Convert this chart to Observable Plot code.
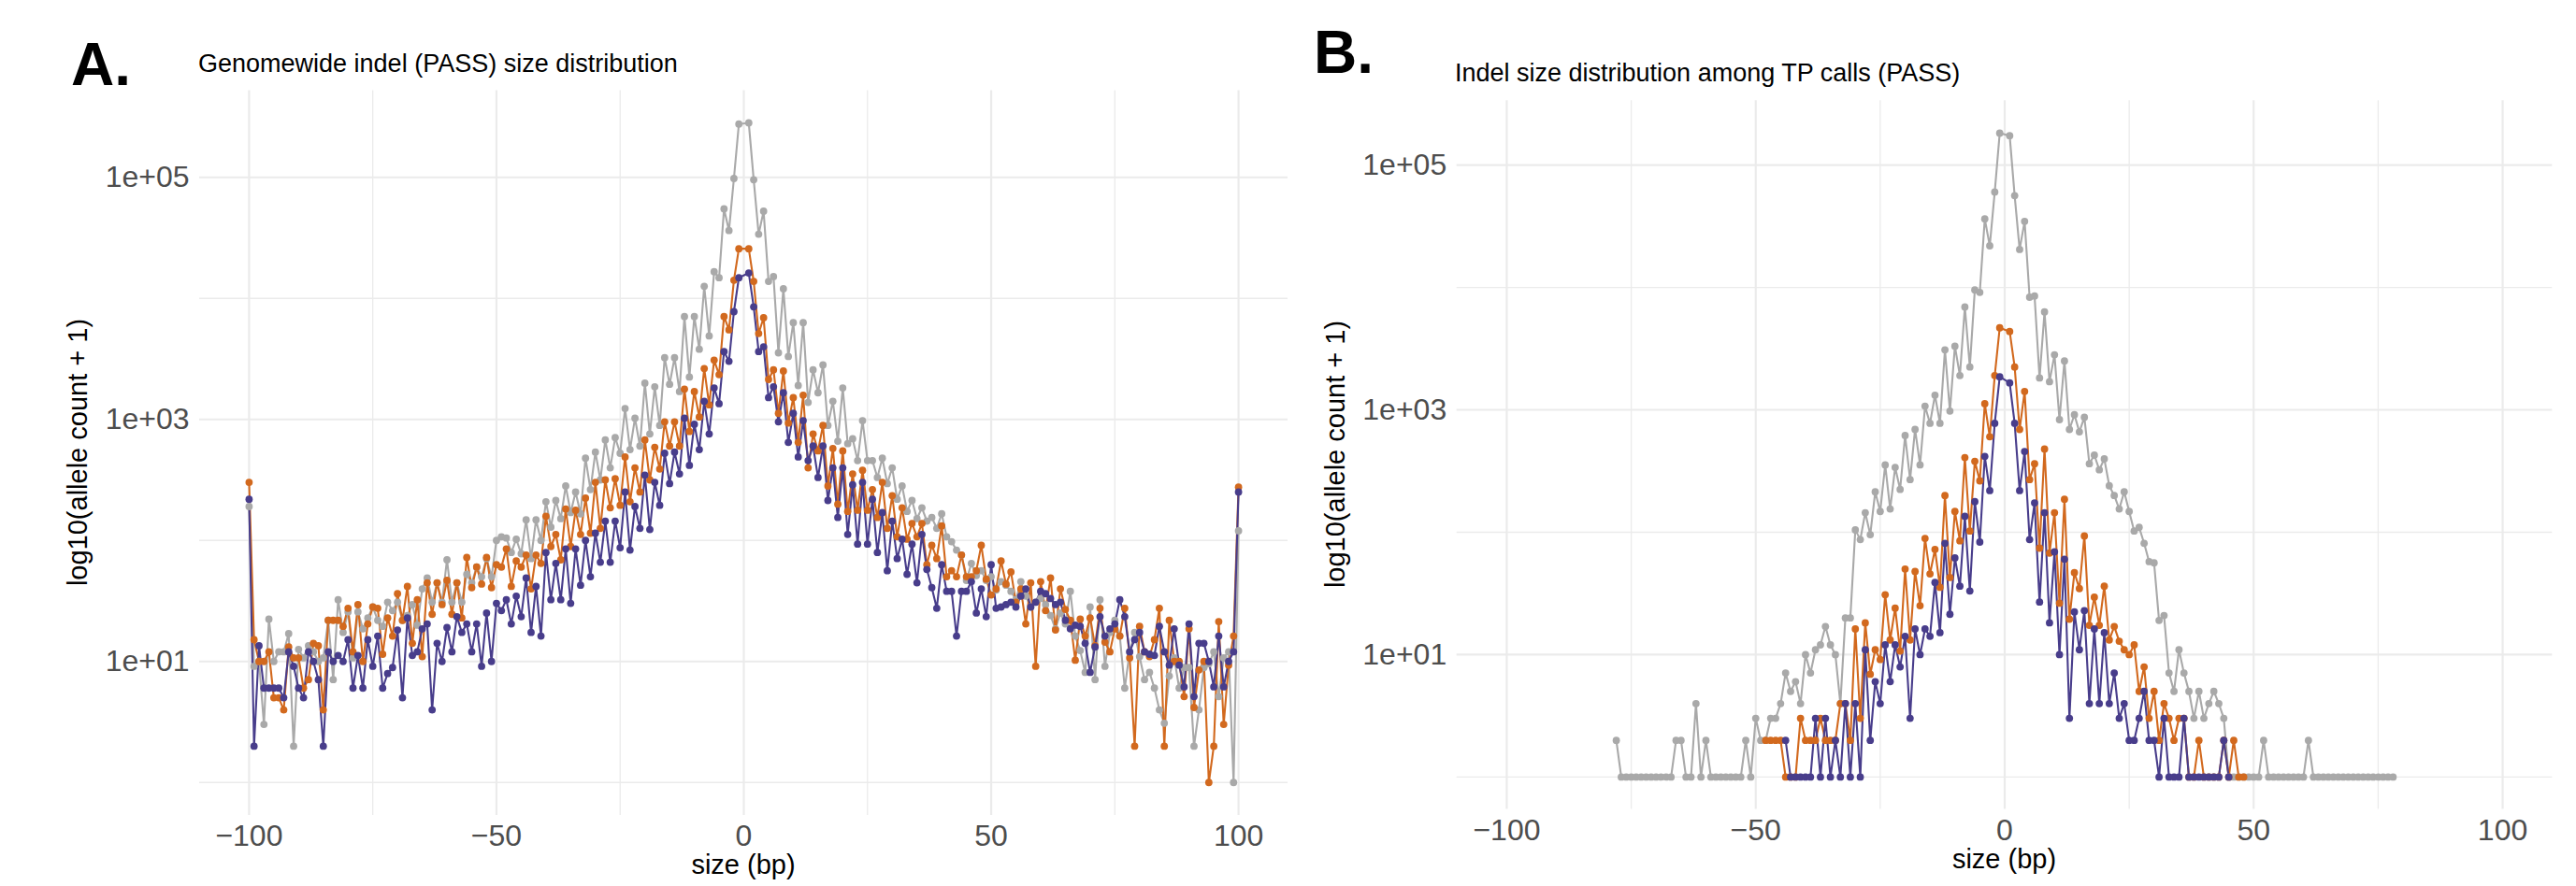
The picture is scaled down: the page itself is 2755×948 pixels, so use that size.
<!DOCTYPE html>
<html>
<head>
<meta charset="utf-8">
<script src="https://cdn.jsdelivr.net/npm/d3@7"></script>
<script src="https://cdn.jsdelivr.net/npm/@observablehq/plot@0.6"></script>
<style>
  html, body { margin: 0; padding: 0; background: #ffffff; }
  #page {
    position: relative; width: 2755px; height: 948px; overflow: hidden; background: #ffffff;
    font-family: "Liberation Sans", Arial, Helvetica, sans-serif;
  }
  .panel { position: absolute; top: 0; }
  .txt { position: absolute; white-space: nowrap; line-height: 1; color: #000000; }
</style>
</head>
<body>
<div id="page"></div>
<script>
// Indel size (bp): negative = deletion, positive = insertion. All values are log10(allele count + 1).
const sizesBetween = (lo, hi) => d3.range(lo, hi + 1).filter(s => s !== 0);

// ---- Panel A: genome-wide PASS indels, sizes -100..100 ----
const sizesA = sizesBetween(-100, 100);

const genomeGrey = [
  2.28, 0.96, 1.00, 0.48, 1.35, 1.00, 1.08, 1.08, 1.23, 0.30,
  1.10, 1.03, 1.13, 1.08, 1.00, 1.03, 1.34, 0.85, 1.51, 1.24,
  1.41, 1.03, 1.41, 1.27, 1.36, 1.45, 1.34, 1.29, 1.49, 1.42,
  1.49, 1.34, 1.38, 1.47, 1.30, 1.60, 1.69, 1.49, 1.65, 1.49,
  1.84, 1.49, 1.65, 1.49, 1.72, 1.65, 1.78, 1.70, 1.85, 1.70,
  2.00, 2.03, 2.02, 1.90, 2.01, 1.89, 2.17, 1.85, 2.17, 2.00,
  2.32, 2.11, 2.33, 2.18, 2.45, 2.23, 2.40, 2.22, 2.68, 2.42,
  2.73, 2.50, 2.83, 2.60, 2.85, 2.72, 3.09, 2.75, 3.01, 2.78,
  3.30, 2.88, 3.27, 2.95, 3.51, 3.29, 3.51, 3.23, 3.85, 3.35,
  3.85, 3.58, 4.10, 3.69, 4.22, 4.17, 4.74, 4.56, 4.99, 5.44,
  5.45, 4.98, 4.53, 4.72, 4.14, 4.18, 3.55, 4.08, 3.52, 3.80,
  3.28, 3.80, 3.14, 3.41, 3.22, 3.45, 2.95, 3.15, 2.82, 3.26,
  2.80, 2.84, 2.66, 2.99, 2.66, 2.66, 2.52, 2.68, 2.47, 2.60,
  2.34, 2.45, 2.24, 2.33, 2.18, 2.27, 2.16, 2.19, 2.10, 2.22,
  2.03, 1.99, 1.92, 1.88, 1.67, 1.81, 1.71, 1.75, 1.67, 1.70,
  1.59, 1.66, 1.63, 1.58, 1.51, 1.66, 1.54, 1.45, 1.49, 1.52,
  1.47, 1.38, 1.27, 1.40, 1.31, 1.58, 1.21, 1.09, 0.91, 1.45,
  0.85, 1.51, 0.96, 1.24, 1.34, 1.21, 0.78, 1.08, 1.24, 1.04,
  0.85, 0.91, 0.78, 0.60, 0.49, 0.88, 1.03, 0.78, 0.95, 0.95,
  0.30, 0.60, 0.95, 0.98, 1.08, 0.71, 1.03, 1.08, 0.00, 2.08
];

const genomeOrange = [
  2.48, 1.18, 1.00, 1.00, 1.08, 0.70, 0.70, 0.60, 1.12, 1.03,
  1.03, 0.78, 0.85, 1.15, 1.13, 0.60, 1.34, 1.34, 1.34, 1.29,
  1.44, 1.08, 1.47, 1.00, 1.31, 1.45, 1.44, 1.06, 1.36, 1.21,
  1.56, 1.34, 1.62, 1.15, 1.51, 1.04, 1.65, 1.39, 1.65, 1.47,
  1.67, 1.39, 1.65, 1.36, 1.86, 1.61, 1.78, 1.64, 1.86, 1.61,
  1.80, 1.78, 1.93, 1.62, 1.83, 1.78, 1.88, 1.60, 1.88, 1.81,
  2.20, 1.95, 2.05, 1.84, 2.26, 1.95, 2.25, 2.05, 2.35, 2.06,
  2.48, 2.10, 2.50, 2.27, 2.51, 2.29, 2.69, 2.32, 2.60, 2.40,
  2.83, 2.50, 2.77, 2.59, 2.98, 2.78, 2.98, 2.78, 3.25, 2.90,
  3.23, 3.02, 3.42, 3.12, 3.49, 3.37, 3.85, 3.74, 4.15, 4.41,
  4.41, 4.14, 3.71, 3.84, 3.33, 3.41, 3.05, 3.40, 2.97, 3.18,
  2.81, 3.20, 2.60, 2.88, 2.74, 2.95, 2.45, 2.76, 2.30, 2.74,
  2.24, 2.55, 2.25, 2.58, 2.25, 2.42, 2.19, 2.48, 2.10, 2.37,
  2.03, 2.27, 2.01, 2.14, 2.03, 2.14, 1.80, 1.96, 1.85, 2.12,
  1.70, 1.75, 1.70, 1.88, 1.70, 1.70, 1.75, 1.96, 1.68, 1.55,
  1.60, 1.83, 1.64, 1.74, 1.49, 1.60, 1.31, 1.65, 0.96, 1.66,
  1.42, 1.69, 1.26, 1.60, 1.43, 1.34, 1.01, 1.35, 1.21, 1.36,
  1.13, 1.44, 1.16, 1.08, 1.27, 1.21, 1.44, 1.03, 0.30, 1.29,
  1.08, 1.04, 1.18, 1.44, 0.30, 1.34, 1.00, 1.00, 0.71, 1.27,
  0.62, 0.93, 1.00, 0.00, 0.30, 1.33, 0.48, 0.97, 1.21, 2.44
];

const genomePurple = [
  2.34, 0.30, 1.13, 0.78, 0.78, 0.78, 0.78, 0.70, 1.08, 0.96,
  0.78, 0.70, 1.08, 1.00, 0.85, 0.30, 1.08, 1.00, 1.05, 1.00,
  1.18, 0.78, 1.05, 0.78, 1.18, 0.96, 1.21, 0.78, 0.90, 0.95,
  1.26, 0.70, 1.36, 1.05, 1.08, 1.27, 1.31, 0.60, 1.15, 1.00,
  1.28, 1.08, 1.37, 1.24, 1.31, 1.08, 1.31, 0.96, 1.40, 1.00,
  1.48, 1.42, 1.51, 1.31, 1.54, 1.37, 1.69, 1.24, 1.62, 1.21,
  1.90, 1.51, 1.81, 1.51, 1.93, 1.48, 1.93, 1.63, 2.00, 1.70,
  2.06, 1.82, 2.16, 1.82, 2.16, 1.94, 2.40, 1.92, 2.28, 2.10,
  2.54, 2.09, 2.48, 2.29, 2.72, 2.47, 2.73, 2.55, 3.01, 2.62,
  2.96, 2.75, 3.15, 2.88, 3.26, 3.13, 3.56, 3.48, 3.89, 4.17,
  4.21, 3.93, 3.56, 3.60, 3.18, 3.27, 2.98, 3.22, 2.81, 3.05,
  2.69, 2.99, 2.66, 2.78, 2.52, 2.78, 2.33, 2.60, 2.19, 2.60,
  2.05, 2.46, 1.97, 2.48, 1.97, 2.34, 1.90, 2.23, 1.75, 2.16,
  1.85, 2.01, 1.72, 1.97, 1.65, 2.05, 1.76, 1.61, 1.44, 1.80,
  1.58, 1.58, 1.21, 1.58, 1.58, 1.66, 1.40, 1.60, 1.37, 1.80,
  1.44, 1.45, 1.47, 1.49, 1.45, 1.54, 1.60, 1.45, 1.49, 1.58,
  1.56, 1.52, 1.47, 1.49, 1.34, 1.27, 1.30, 1.29, 1.15, 0.91,
  1.12, 1.37, 1.21, 1.27, 1.31, 1.51, 1.37, 1.08, 1.18, 1.24,
  1.08, 1.06, 1.05, 1.29, 1.08, 0.97, 1.27, 0.97, 0.79, 1.31,
  0.71, 1.15, 1.15, 1.00, 0.79, 1.21, 0.79, 1.00, 1.08, 2.40
];

// ---- Panel B: PASS indels among true-positive calls ----
const sizesGreyB = sizesBetween(-78, 78);
const sizesOrangeB = sizesBetween(-48, 48);
const sizesPurpleB = sizesBetween(-44, 45);

const tpGrey = [
  0.30, 0, 0, 0, 0, 0, 0, 0, 0, 0,
  0, 0, 0.30, 0.30, 0, 0, 0.60, 0, 0.30, 0,
  0, 0, 0, 0, 0, 0, 0.30, 0, 0.48, 0.30,
  0.30, 0.48, 0.48, 0.60, 0.85, 0.70, 0.78, 0.60, 1.00, 0.85,
  1.04, 1.08, 1.23, 1.08, 1.00, 0.60, 1.30, 1.30, 2.02, 1.94,
  2.16, 1.98, 2.33, 2.17, 2.55, 2.19, 2.53, 2.35, 2.79, 2.43,
  2.84, 2.55, 3.03, 2.89, 3.12, 2.89, 3.49, 2.99, 3.52, 3.28,
  3.84, 3.35, 3.98, 3.96, 4.56, 4.34, 4.78, 5.26,
  5.24, 4.75, 4.31, 4.54, 3.92, 3.93, 3.26, 3.80, 3.23, 3.45,
  2.92, 3.40, 2.84, 2.96, 2.82, 2.94, 2.56, 2.63, 2.51, 2.60,
  2.38, 2.30, 2.19, 2.33, 2.17, 2.01, 2.04, 1.91, 1.76, 1.75,
  1.28, 1.32, 0.85, 0.70, 1.04, 0.85, 0.70, 0.48, 0.70, 0.48,
  0.60, 0.70, 0.60, 0.48, 0, 0, 0, 0, 0, 0,
  0, 0.30, 0, 0, 0, 0, 0, 0, 0, 0,
  0.30, 0, 0, 0, 0, 0, 0, 0, 0, 0,
  0, 0, 0, 0, 0, 0, 0, 0
];

const tpOrange = [
  0.30, 0.30, 0.30, 0.30, 0, 0, 0, 0.48, 0.30, 0.30,
  0.30, 0.48, 0.30, 0.30, 0.30, 0.60, 0.60, 0.30, 1.21, 0.48,
  1.26, 0.84, 1.04, 0.96, 1.49, 1.12, 1.38, 1.03, 1.70, 1.12,
  1.68, 1.40, 1.95, 1.66, 1.86, 1.55, 2.30, 1.63, 2.17, 1.93,
  2.61, 2.01, 2.58, 2.42, 3.05, 2.78, 3.28, 3.67,
  3.64, 3.35, 2.84, 3.15, 2.43, 2.56, 1.87, 2.68, 1.83, 2.16,
  1.42, 2.27, 1.29, 1.67, 1.54, 1.97, 1.24, 1.47, 1.24, 1.56,
  1.12, 1.23, 1.11, 1.04, 1.00, 1.08, 0.70, 0.90, 0.48, 0.70,
  0.30, 0.60, 0.48, 0.30, 0.48, 0.48, 0, 0, 0.30, 0,
  0, 0, 0, 0.30, 0, 0.30, 0, 0
];

const tpPurple = [
  0.30, 0, 0, 0, 0, 0, 0.48, 0, 0.48, 0,
  0.30, 0, 0.60, 0, 0.60, 0, 1.04, 0.30, 0.78, 0.60,
  1.08, 0.78, 1.08, 0.90, 1.15, 0.48, 1.21, 1.00, 1.21, 1.15,
  1.59, 1.18, 1.91, 1.33, 1.79, 1.56, 2.13, 1.52, 2.25, 1.92,
  2.62, 2.34, 2.89, 3.27,
  3.22, 2.89, 2.34, 2.66, 1.94, 2.24, 1.43, 2.16, 1.26, 1.84,
  1.00, 1.78, 0.48, 1.35, 1.04, 1.36, 0.60, 1.21, 0.60, 1.18,
  0.60, 0.85, 0.48, 0.60, 0.30, 0.30, 0.48, 0.70, 0.30, 0.30,
  0, 0.48, 0, 0, 0, 0.48, 0, 0, 0, 0,
  0, 0, 0, 0.30, 0
];

// Axis breaks
const xMajor = [-100, -50, 0, 50, 100];
const xMinor = [-75, -25, 25, 75];
const yMajor = [1, 3, 5];
const yMinor = [0, 2, 4];

const colors = { grey: "#A9A9A9", orange: "#D2691E", purple: "#483D8B" };
const fontFamily = '"Liberation Sans", Arial, Helvetica, sans-serif';

function checkLength(name, values, sizes) {
  if (values.length !== sizes.length) throw new Error(name + ": " + values.length + " values for " + sizes.length + " sizes");
}
checkLength("genomeGrey", genomeGrey, sizesA);
checkLength("genomeOrange", genomeOrange, sizesA);
checkLength("genomePurple", genomePurple, sizesA);
checkLength("tpGrey", tpGrey, sizesGreyB);
checkLength("tpOrange", tpOrange, sizesOrangeB);
checkLength("tpPurple", tpPurple, sizesPurpleB);

const fmtX = d => (d < 0 ? "\u2212" + Math.abs(d) : String(d));
const fmtY = d => "1e+0" + d;

function panel({ width, margins, yDomain, series }) {
  const lineMarks = series.map(s =>
    Plot.line(s.values, { x: (d, i) => s.sizes[i], y: d => d, stroke: s.color, strokeWidth: 2.1 })
  );
  const dotMarks = series.map(s =>
    Plot.dot(s.values, { x: (d, i) => s.sizes[i], y: d => d, fill: s.color, r: 3.9 })
  );
  return Plot.plot({
    width,
    height: 948,
    marginLeft: margins.left,
    marginRight: margins.right,
    marginTop: margins.top,
    marginBottom: margins.bottom,
    style: { fontFamily, fontSize: "32px", color: "#4D4D4D", background: "transparent", overflow: "visible" },
    x: { type: "linear", domain: [-110, 110] },
    y: { type: "linear", domain: yDomain },
    marks: [
      Plot.gridX(xMinor, { stroke: "#EBEBEB", strokeOpacity: 1, strokeWidth: 1.3 }),
      Plot.gridY(yMinor, { stroke: "#EBEBEB", strokeOpacity: 1, strokeWidth: 1.3 }),
      Plot.gridX(xMajor, { stroke: "#EBEBEB", strokeOpacity: 1, strokeWidth: 2.2 }),
      Plot.gridY(yMajor, { stroke: "#EBEBEB", strokeOpacity: 1, strokeWidth: 2.2 }),
      Plot.axisX({ ticks: xMajor, tickFormat: fmtX, tickSize: 0, tickPadding: 10, label: null, fontSize: 32 }),
      Plot.axisY({ ticks: yMajor, tickFormat: fmtY, tickSize: 0, tickPadding: 11, label: null, fontSize: 32 }),
      ...lineMarks,
      ...dotMarks
    ]
  });
}

const page = document.getElementById("page");

const chartA = panel({
  width: 1378,
  margins: { left: 213, right: 1, top: 96.5, bottom: 76 },
  yDomain: [-0.272, 5.716],
  series: [
    { sizes: sizesA, values: genomeGrey, color: colors.grey },
    { sizes: sizesA, values: genomeOrange, color: colors.orange },
    { sizes: sizesA, values: genomePurple, color: colors.purple }
  ]
});
const chartB = panel({
  width: 1377,
  margins: { left: 179.7, right: 25.7, top: 107.3, bottom: 82.6 },
  yDomain: [-0.263, 5.525],
  series: [
    { sizes: sizesGreyB, values: tpGrey, color: colors.grey },
    { sizes: sizesOrangeB, values: tpOrange, color: colors.orange },
    { sizes: sizesPurpleB, values: tpPurple, color: colors.purple }
  ]
});

for (const [chart, left] of [[chartA, 0], [chartB, 1378]]) {
  const wrap = document.createElement("div");
  wrap.className = "panel";
  wrap.style.left = left + "px";
  wrap.appendChild(chart);
  page.appendChild(wrap);
}

// Text labels: positioned by baseline (line-height 1, Liberation Sans ascent/descent)
function addText(str, { x, baseline, size, weight = "normal", align = "left", rotate = false, cy }) {
  const el = document.createElement("div");
  el.className = "txt";
  el.textContent = str;
  el.style.fontSize = size + "px";
  el.style.fontWeight = weight;
  if (rotate) {
    el.style.left = x + "px";
    el.style.top = cy + "px";
    el.style.transform = "translate(-50%, -50%) rotate(-90deg)";
  } else {
    el.style.left = x + "px";
    el.style.top = (baseline - 0.8465 * size) + "px";
    if (align === "center") el.style.transform = "translateX(-50%)";
  }
  page.appendChild(el);
}

addText("A.", { x: 76, baseline: 91, size: 64, weight: "bold" });
addText("Genomewide indel (PASS) size distribution", { x: 212, baseline: 78, size: 27 });
addText("log10(allele count + 1)", { x: 82.5, cy: 484, size: 29, rotate: true });
addText("size (bp)", { x: 795, baseline: 936, size: 29, align: "center" });

addText("B.", { x: 1405, baseline: 78, size: 64, weight: "bold" });
addText("Indel size distribution among TP calls (PASS)", { x: 1556, baseline: 88, size: 27 });
addText("log10(allele count + 1)", { x: 1427.5, cy: 486, size: 29, rotate: true });
addText("size (bp)", { x: 2143.5, baseline: 929.5, size: 29, align: "center" });
</script>
</body>
</html>
